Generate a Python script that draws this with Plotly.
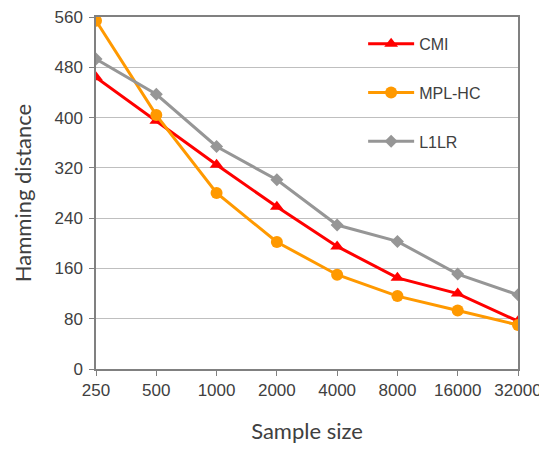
import plotly.graph_objects as go

sample_sizes = ["250", "500", "1000", "2000", "4000", "8000", "16000", "32000"]
cmi = [464, 395, 325, 258, 195, 145, 120, 76]
mpl_hc = [554, 404, 280, 202, 150, 116, 93, 70]
l1lr = [493, 437, 354, 301, 229, 203, 151, 118]
y_ticks = [0, 80, 160, 240, 320, 400, 480, 560]

TICK_FONT = "Liberation Sans"
TITLE_FONT = "Lato"
TXT = "#404040"

fig = go.Figure()
series = [
    ("CMI", cmi, "#FF0000", "triangle-up", 12),
    ("MPL-HC", mpl_hc, "#FF9900", "circle", 12),
    ("L1LR", l1lr, "#969696", "diamond", 10),
]
for name, vals, col, sym, sz in series:
    fig.add_trace(go.Scatter(
        x=sample_sizes, y=vals, name=name, mode="lines+markers",
        line=dict(color=col, width=3),
        marker=dict(color=col, symbol=sym, size=sz),
        legendgroup=name,
    ))

fig.add_shape(type="rect", xref="paper", yref="paper", x0=0.552, x1=0.997, y0=0.6, y1=0.997,
              fillcolor="white", line=dict(width=0), layer="between")

# page body has an 8px margin; figure sized so it fits the window without scrolling
fig.update_layout(
    width=539, height=436,
    margin=dict(l=88, r=29, t=9, b=75),
    paper_bgcolor="white", plot_bgcolor="white",
    font=dict(family=TICK_FONT, size=16, color=TXT),
    legend=dict(x=0.633, y=0.972, xanchor="left", yanchor="top",
                bgcolor="rgba(0,0,0,0)", font=dict(family=TICK_FONT, size=16, color=TXT),
                tracegroupgap=25, itemwidth=46),
    showlegend=True,
)
fig.update_xaxes(
    type="category", range=[0, 7], automargin=False,
    showline=True, linecolor="#808080", linewidth=1.5, mirror=True,
    ticks="outside", ticklen=5, tickcolor="#808080",
    showgrid=False, ticklabeloverflow="allow",
    tickfont=dict(family=TICK_FONT, size=17, color=TXT),
    title=dict(text="Sample size", font=dict(family=TITLE_FONT, size=22, color=TXT), standoff=38),
)
fig.update_yaxes(
    range=[0, 560], tickvals=y_ticks, automargin=False,
    showline=True, linecolor="#808080", linewidth=1.5, mirror=True,
    ticks="outside", ticklen=5, tickcolor="#808080",
    showgrid=True, gridcolor="#BFBFBF", gridwidth=1,
    zeroline=False, ticklabeloverflow="allow", ticklabelstandoff=3,
    tickfont=dict(family=TICK_FONT, size=17, color=TXT),
    title=dict(text="Hamming distance", font=dict(family=TITLE_FONT, size=22, color=TXT), standoff=17),
)

fig.write_html("out.html")
